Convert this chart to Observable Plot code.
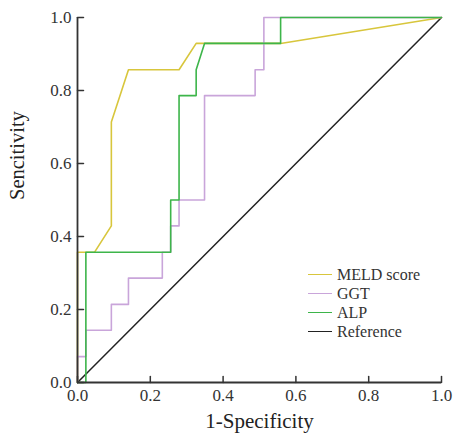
<!DOCTYPE html>
<html>
<head>
<meta charset="utf-8">
<script src="https://cdn.jsdelivr.net/npm/d3@7"></script>
<script src="https://cdn.jsdelivr.net/npm/@observablehq/plot@0.6"></script>
<style>
  html, body { margin: 0; padding: 0; background: #fff; }
  #wrap { position: relative; width: 455px; height: 434px; overflow: hidden; }
  #legend { position: absolute; left: 308px; top: 265px; font-family: "Liberation Serif", "Times New Roman", serif; font-size: 16px; color: #333; }
  #legend .row { display: flex; align-items: center; height: 19px; }
  #legend .sw { flex: none; width: 24px; height: 0; border-top: 1.6px solid; margin-right: 5px; }
</style>
</head>
<body>
<div id="wrap"></div>
<script>
// Data
const seriesNames = ["MELD score", "GGT", "ALP", "Reference"];
const seriesColors = ["#d8c63c", "#c9a5da", "#3db54a", "#222222"];

const meldFpr = [0, 0, 0.047, 0.093, 0.093, 0.140, 0.279, 0.326, 0.558, 1];
const meldTpr = [0, 0.357, 0.357, 0.429, 0.714, 0.857, 0.857, 0.929, 0.929, 1];

const ggtFpr = [0, 0, 0.023, 0.023, 0.093, 0.093, 0.140, 0.140, 0.233, 0.233, 0.256, 0.256, 0.279, 0.279, 0.349, 0.349, 0.488, 0.488, 0.512, 0.512, 1];
const ggtTpr = [0, 0.071, 0.071, 0.143, 0.143, 0.214, 0.214, 0.286, 0.286, 0.357, 0.357, 0.429, 0.429, 0.5, 0.5, 0.786, 0.786, 0.857, 0.857, 1, 1];

const alpFpr = [0, 0.023, 0.023, 0.256, 0.256, 0.279, 0.279, 0.326, 0.326, 0.349, 0.558, 0.558, 1];
const alpTpr = [0, 0, 0.357, 0.357, 0.5, 0.5, 0.786, 0.786, 0.857, 0.929, 0.929, 1, 1];

const refFpr = [0, 1];
const refTpr = [0, 1];

const xTicks = [0, 0.2, 0.4, 0.6, 0.8, 1.0];
const yTicks = [0, 0.2, 0.4, 0.6, 0.8, 1.0];
const xLabel = "1-Specificity";
const yLabel = "Sencitivity";

const toPts = (fx, ty, name) => fx.map((v, i) => ({x: v, y: ty[i], s: name}));
const refData = toPts(refFpr, refTpr, "Reference");
const meldData = toPts(meldFpr, meldTpr, "MELD score");
const ggtData = toPts(ggtFpr, ggtTpr, "GGT");
const alpData = toPts(alpFpr, alpTpr, "ALP");

const colorOf = Object.fromEntries(seriesNames.map((n, i) => [n, seriesColors[i]]));
const fmt = d3.format(".1f");
const tickShapeUp = {draw(ctx, l) { ctx.moveTo(0, 0); ctx.lineTo(0, -l); }};
const tickShapeRight = {draw(ctx, l) { ctx.moveTo(0, 0); ctx.lineTo(l, 0); }};

const chart = Plot.plot({
  width: 455,
  height: 434,
  marginLeft: 77,
  marginRight: 14,
  marginTop: 17,
  marginBottom: 52,
  style: {fontFamily: "'Liberation Serif', 'Times New Roman', serif", fontSize: "17px", color: "#333", background: "#fff"},
  x: {domain: [0, 1]},
  y: {domain: [0, 1]},
  marks: [
    Plot.line(refData, {x: "x", y: "y", stroke: colorOf["Reference"], strokeWidth: 1.5}),
    Plot.line(meldData, {x: "x", y: "y", stroke: colorOf["MELD score"], strokeWidth: 1.6}),
    Plot.line(ggtData, {x: "x", y: "y", stroke: colorOf["GGT"], strokeWidth: 1.6}),
    Plot.line(alpData, {x: "x", y: "y", stroke: colorOf["ALP"], strokeWidth: 1.6}),
    Plot.ruleY([0], {stroke: "#333", strokeWidth: 1.8}),
    Plot.ruleX([0], {stroke: "#333", strokeWidth: 1.8}),
    Plot.vector(xTicks, {x: d => d, y: () => 0, length: 6, shape: tickShapeUp, anchor: "start", stroke: "#333", strokeWidth: 1.5}),
    Plot.vector(yTicks, {x: () => 0, y: d => d, length: 6, shape: tickShapeRight, anchor: "start", stroke: "#333", strokeWidth: 1.5}),
    Plot.axisX(xTicks, {tickSize: 0, tickPadding: 6, tickFormat: fmt, label: null, fontSize: 17}),
    Plot.axisY(yTicks, {tickSize: 0, tickPadding: 6, tickFormat: fmt, label: null, fontSize: 17}),
    Plot.text([xLabel], {frameAnchor: "bottom", dy: 45, fontSize: 21, fill: "#222"}),
    Plot.text([yLabel], {frameAnchor: "left", dx: -60, rotate: -90, fontSize: 20.5, fill: "#222"})
  ]
});

const wrap = document.getElementById("wrap");
wrap.appendChild(chart);
const legend = document.createElement("div");
legend.id = "legend";
seriesNames.forEach((n, i) => {
  const row = document.createElement("div");
  row.className = "row";
  const sw = document.createElement("span");
  sw.className = "sw";
  sw.style.borderTopColor = seriesColors[i];
  const t = document.createElement("span");
  t.textContent = n;
  row.appendChild(sw);
  row.appendChild(t);
  legend.appendChild(row);
});
wrap.appendChild(legend);
</script>
</body>
</html>
